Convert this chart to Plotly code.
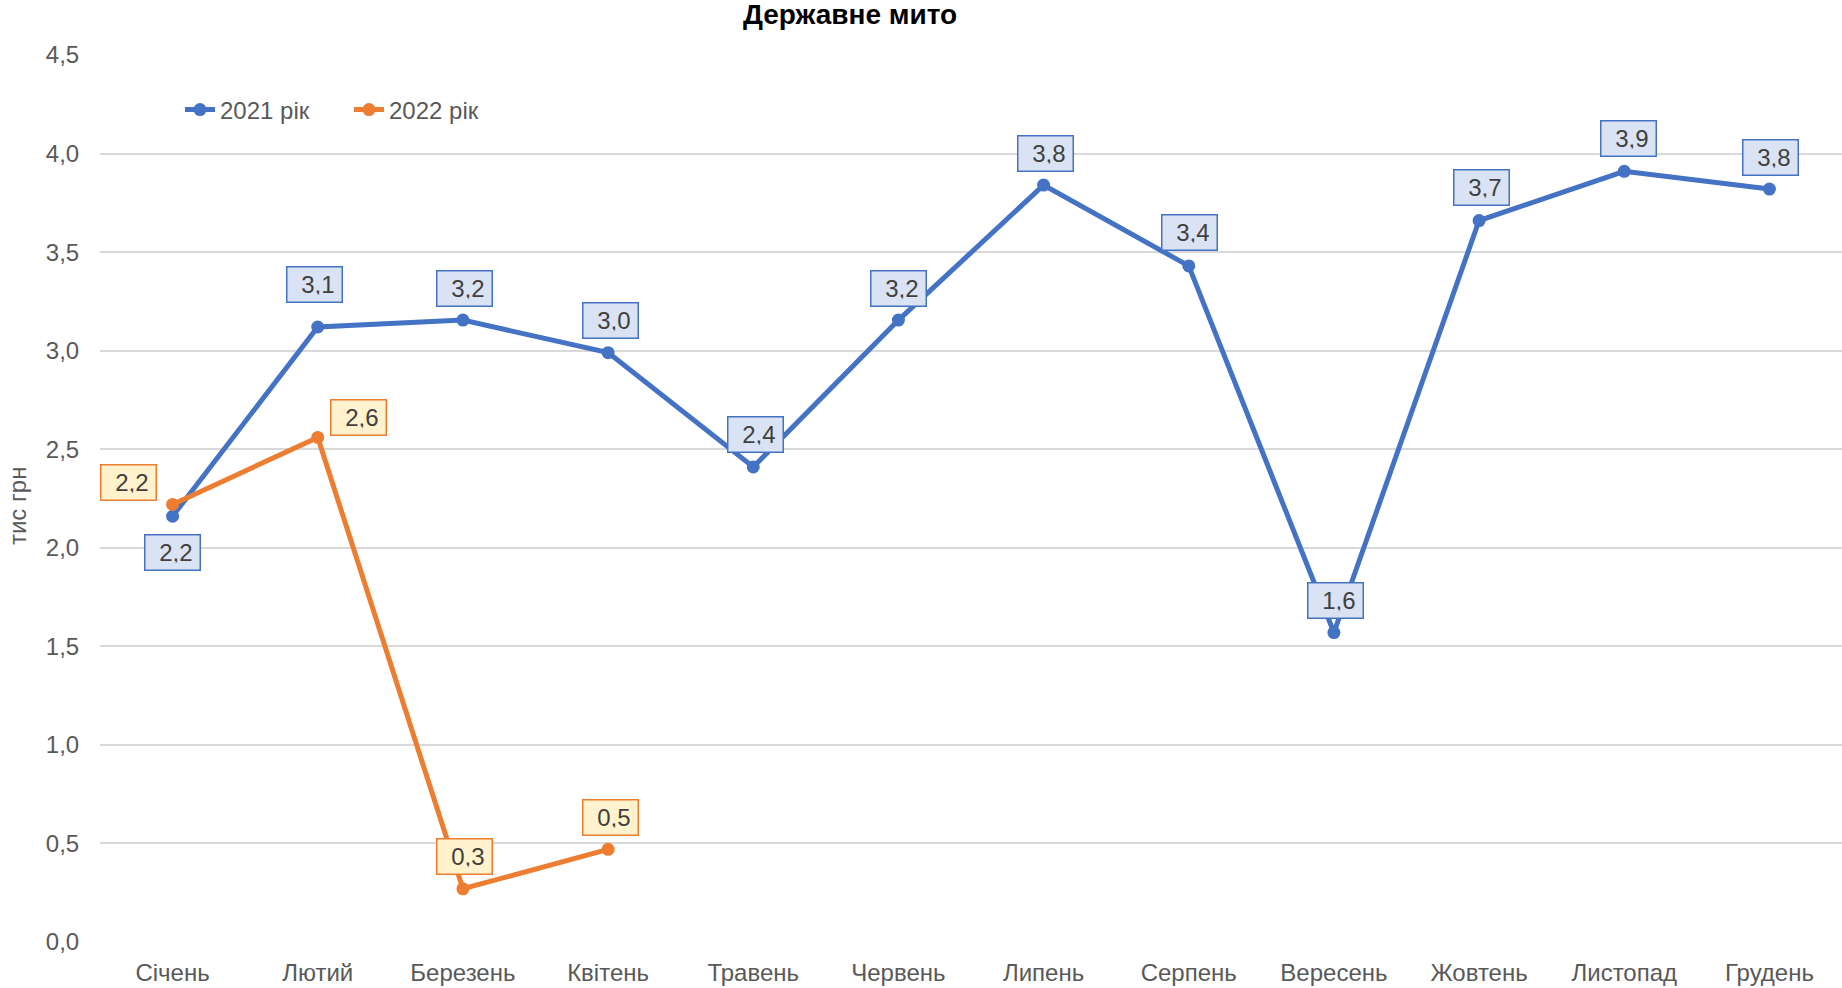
import plotly.graph_objects as go

months = ["Січень", "Лютий", "Березень", "Квітень", "Травень", "Червень",
          "Липень", "Серпень", "Вересень", "Жовтень", "Листопад", "Грудень"]
values_2021 = [2.16, 3.12, 3.155, 2.99, 2.41, 3.155, 3.84, 3.43, 1.57, 3.66, 3.91, 3.82]
values_2022 = [2.22, 2.56, 0.27, 0.47]
series_names = ["2021 рік", "2022 рік"]
y_ticks = [0.0, 0.5, 1.0, 1.5, 2.0, 2.5, 3.0, 3.5, 4.0, 4.5]

# label offsets (pixels) relative to each point
shift_2021 = [(0, -36), (-3, 43), (2, 32), (2, 32), (2, 32), (0, 32),
              (2, 32), (1, 33), (2, 32), (2, 33), (4, 33), (1, 32)]
shift_2022 = [(-44, 22), (41, 20), (2, 32), (2, 32)]

BLUE = "#4472C4"
ORANGE = "#ED7D31"
FONT = "Arial, Liberation Sans, sans-serif"

fig = go.Figure()
x_idx_21 = list(range(len(values_2021)))
x_idx_22 = list(range(len(values_2022)))
fig.add_trace(go.Scatter(x=x_idx_21, y=values_2021, mode="lines+markers", name=series_names[0],
                         line=dict(color=BLUE, width=5), marker=dict(size=13, color=BLUE)))
fig.add_trace(go.Scatter(x=x_idx_22, y=values_2022, mode="lines+markers", name=series_names[1],
                         line=dict(color=ORANGE, width=5), marker=dict(size=13, color=ORANGE)))

def fmt(v):
    return f"{v:.1f}".replace(".", ",")

annotations = []
for vals, shifts, col, fill in [(values_2021, shift_2021, BLUE, "#DAE3F3"),
                                (values_2022, shift_2022, ORANGE, "#FFF2CC")]:
    for i, (v, (dx, dy)) in enumerate(zip(vals, shifts)):
        annotations.append(dict(
            x=i, y=v, xref="x", yref="y", text=fmt(v), showarrow=False,
            xshift=dx, yshift=dy, font=dict(family=FONT, size=24, color="#404040"),
            bgcolor=fill, bordercolor=col, borderwidth=1.5, borderpad=7,
            width=40, height=20, align="right", valign="middle"))

annotations.append(dict(text="тис грн", textangle=-90, xref="paper", yref="paper",
                        x=(17 - 100) / 1742, y=0.4915, xanchor="center", yanchor="middle",
                        showarrow=False, font=dict(family=FONT, size=24, color="#595959")))

fig.update_layout(
    width=1842, height=988,
    margin=dict(l=100, r=0, t=55, b=46),
    paper_bgcolor="white", plot_bgcolor="white",
    title=dict(text="<b>Державне мито</b>", x=850 / 1842, xanchor="center", xref="container",
               y=1 - 14 / 988, yanchor="middle", yref="container",
               font=dict(family=FONT, size=28, color="#000000")),
    font=dict(family=FONT, size=24, color="#595959"),
    legend=dict(orientation="h", x=(180 - 100) / 1742, y=0.938, xanchor="left", yanchor="middle",
                font=dict(family=FONT, size=24, color="#595959"), bgcolor="rgba(0,0,0,0)",
                entrywidth=124, entrywidthmode="pixels", tracegroupgap=0),
    showlegend=True,
    annotations=annotations,
)
fig.update_xaxes(range=[-0.5, 11.5], tickmode="array", tickvals=list(range(len(months))),
                 ticktext=months, showgrid=False, zeroline=False, showline=False,
                 ticks="outside", ticklen=9, tickcolor="rgba(0,0,0,0)",
                 tickfont=dict(family=FONT, size=24, color="#595959"))
fig.update_yaxes(range=[0, 4.5], tickmode="array", tickvals=y_ticks,
                 ticktext=[fmt(t) for t in y_ticks], showgrid=True, gridcolor="#D9D9D9",
                 gridwidth=1.5, zeroline=False, showline=False,
                 ticks="outside", ticklen=15, tickcolor="rgba(0,0,0,0)",
                 tickfont=dict(family=FONT, size=24, color="#595959"))

fig.write_html("out.html", config={"displayModeBar": False},
               post_script="document.body.style.margin='0';document.body.style.overflow='hidden';")
